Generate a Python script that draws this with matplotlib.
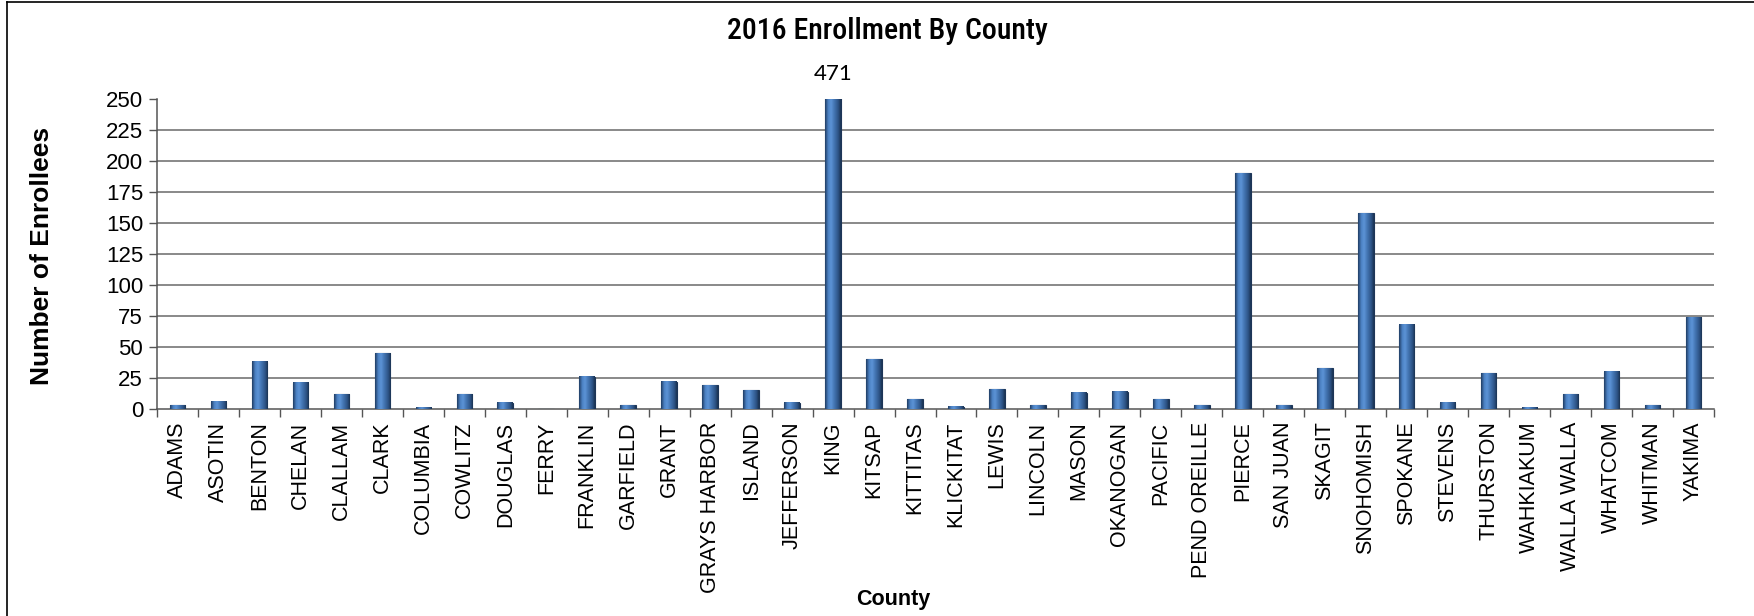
import numpy as np
import matplotlib
matplotlib.use("Agg")
import matplotlib.pyplot as plt
from matplotlib import font_manager
from matplotlib.colors import LinearSegmentedColormap
from matplotlib.lines import Line2D

counties = [
    "ADAMS", "ASOTIN", "BENTON", "CHELAN", "CLALLAM", "CLARK", "COLUMBIA",
    "COWLITZ", "DOUGLAS", "FERRY", "FRANKLIN", "GARFIELD", "GRANT",
    "GRAYS HARBOR", "ISLAND", "JEFFERSON", "KING", "KITSAP", "KITTITAS",
    "KLICKITAT", "LEWIS", "LINCOLN", "MASON", "OKANOGAN", "PACIFIC",
    "PEND OREILLE", "PIERCE", "SAN JUAN", "SKAGIT", "SNOHOMISH", "SPOKANE",
    "STEVENS", "THURSTON", "WAHKIAKUM", "WALLA WALLA", "WHATCOM", "WHITMAN",
    "YAKIMA",
]
enrollees = [
    3, 6, 38, 21, 12, 45, 1,
    12, 5, 0, 26, 3, 22,
    19, 15, 5, 471, 40, 8,
    2, 16, 3, 13, 14, 8,
    3, 190, 3, 33, 158, 68,
    5, 29, 1, 12, 30, 3,
    74,
]
labelled = {"KING": 471}
y_max = 250
y_ticks = [0, 25, 50, 75, 100, 125, 150, 175, 200, 225, 250]

W, H = 1754, 616
fig = plt.figure(figsize=(W / 100, H / 100), dpi=100)
fig.patch.set_facecolor("white")

# outer chart frame
fig.add_artist(Line2D([7 / W, 7 / W], [0, 1 - 2 / H], color="black", lw=1.2))
fig.add_artist(Line2D([7 / W, 1], [1 - 2 / H, 1 - 2 / H], color="black", lw=1.2))

ax = fig.add_axes([157 / W, 1 - 409 / H, (1714 - 157) / W, (409 - 99) / H])
ax.set_xlim(-0.5, len(counties) - 0.5)
ax.set_ylim(0, y_max)

x = np.arange(len(counties))
bar_w = 0.38
bars = ax.bar(x, enrollees, width=bar_w, color="#3f70ad",
              edgecolor="#1d3557", linewidth=0.8, zorder=3)

# cylinder-like horizontal shading for each bar, kept inside the value axis
shade = LinearSegmentedColormap.from_list(
    "cyl", [(0.0, "#203d64"), (0.2, "#4c82c4"), (0.38, "#5c93d6"),
            (0.6, "#4273b0"), (0.85, "#2c5284"), (1.0, "#1b3352")])
grad = np.linspace(0, 1, 64).reshape(1, -1)
top = ax.get_ylim()[1]
for b in bars:
    x0, w, h = b.get_x(), b.get_width(), b.get_height()
    if h <= 0:
        continue
    ax.imshow(grad, cmap=shade, extent=(x0, x0 + w, 0, min(h, top)),
              aspect="auto", zorder=3.5, interpolation="bilinear")

ax.set_xlim(-0.5, len(counties) - 0.5)
ax.set_ylim(0, y_max)

# horizontal grid below the top of the value axis
for yv in y_ticks[1:-1]:
    ax.axhline(yv, color="#808080", lw=1.3, zorder=1)

for s in ["top", "right"]:
    ax.spines[s].set_visible(False)
for s in ["left", "bottom"]:
    ax.spines[s].set_color("#555555")
    ax.spines[s].set_linewidth(1.1)

sans = ["Liberation Sans", "DejaVu Sans"]

ax.set_yticks(y_ticks)
ax.set_yticklabels([str(v) for v in y_ticks], fontsize=16, family=sans)
ax.tick_params(axis="y", direction="out", length=6, width=1, color="#555555",
               pad=4)

ax.set_xticks(x)
ax.set_xticklabels(counties, rotation=90, fontsize=15.5, family=sans)
ax.set_xticks(np.arange(-0.5, len(counties), 1), minor=True)
ax.tick_params(axis="x", which="major", length=0, pad=9)
ax.tick_params(axis="x", which="minor", direction="out", length=6, width=1,
               color="#555555")

# value label for the bar that runs past the axis
for name, val in labelled.items():
    i = counties.index(name)
    ax.annotate(str(val), xy=(x[i], y_max), xytext=(0, 18),
                textcoords="offset points", ha="center", va="center",
                fontsize=16, family=["Lato", "DejaVu Sans"],
                annotation_clip=False)


def narrow_family():
    """Return the first installed condensed sans face, if any."""
    names = {f.name for f in font_manager.fontManager.ttflist}
    for cand in ["Liberation Sans Narrow", "Arial Narrow",
                 "DejaVu Sans Condensed", "Roboto Condensed",
                 "Open Sans Condensed", "Noto Sans Condensed"]:
        if cand in names:
            return cand
    for f in font_manager.fontManager.ttflist:
        if f.name in ("DejaVu Sans", "Noto Sans", "Open Sans") and \
                str(f.stretch) in ("condensed", "semi-condensed", "600", "700", "500"):
            return (f.name, f.stretch)
    return None


nf = narrow_family()
if isinstance(nf, str):
    title_kw = dict(family=[nf, "DejaVu Sans"], fontsize=21.5, fontweight=500)
elif isinstance(nf, tuple):
    title_kw = dict(family=[nf[0], "DejaVu Sans"], fontstretch=nf[1],
                    fontsize=20.5, fontweight=500)
else:
    title_kw = dict(family=sans, fontsize=18)

fig.text(887 / W, 1 - 31 / H, "2016 Enrollment By County", ha="center",
         va="center", **title_kw)
fig.text(42 / W, 1 - 256 / H, "Number of Enrollees", rotation=90,
         ha="center", va="center", fontsize=19, fontweight="bold",
         family=sans)
fig.text(893 / W, 1 - 600 / H, "County", ha="center", va="center",
         fontsize=15.5, fontweight="bold", family=sans)

fig.savefig("out.png", dpi=100, facecolor="white")
